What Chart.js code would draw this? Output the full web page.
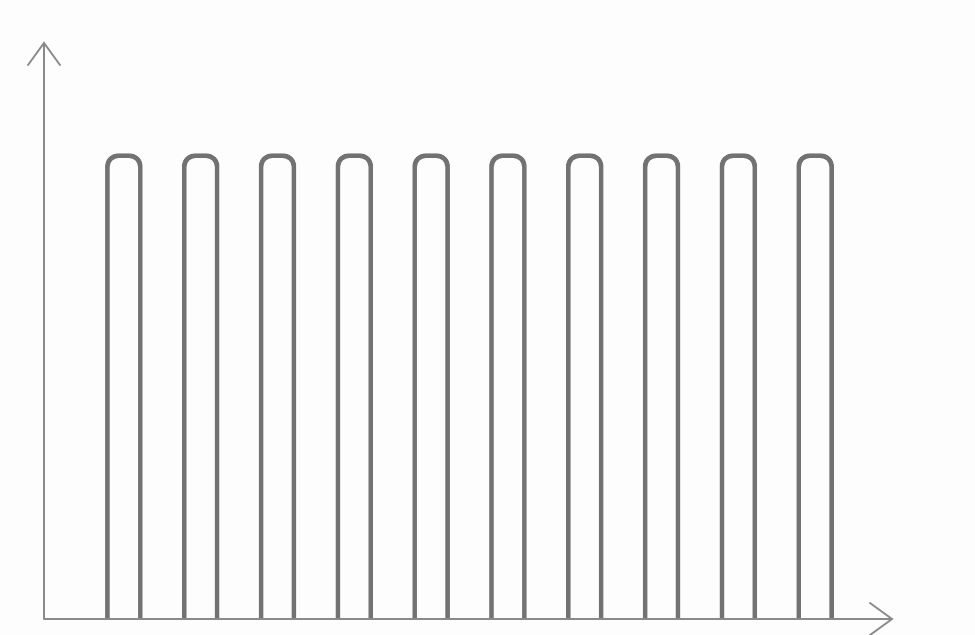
<!DOCTYPE html>
<html>
<head>
<meta charset="utf-8">
<script src="https://cdn.jsdelivr.net/npm/chart.js@4"></script>
<style>
  html, body { margin: 0; padding: 0; background: #fdfdfd; }
  #wrap { width: 975px; height: 635px; }
</style>
</head>
<body>
<div id="wrap"><canvas id="barChart"></canvas></div>
<script>
// Data: 10 equal bars, no labels on the axes
const positions = [1, 2, 3, 4, 5, 6, 7, 8, 9, 10];
const barValues = [8, 8, 8, 8, 8, 8, 8, 8, 8, 8];
const xRange = [-0.04, 11];
const yRange = [0, 9.9];

// Axis lines with arrow heads, drawn along the chart area edges
const arrowAxes = {
    id: 'arrowAxes',
    afterDraw(chart) {
        const { ctx, chartArea: a } = chart;
        ctx.save();
        ctx.strokeStyle = '#8a8a8a';
        ctx.lineWidth = 2;
        ctx.lineCap = 'round';
        ctx.beginPath();
        // y axis
        ctx.moveTo(a.left, a.bottom);
        ctx.lineTo(a.left, a.top);
        ctx.moveTo(a.left - 16, a.top + 22);
        ctx.lineTo(a.left, a.top);
        ctx.lineTo(a.left + 16, a.top + 22);
        // x axis
        ctx.moveTo(a.left, a.bottom);
        ctx.lineTo(a.right, a.bottom);
        ctx.moveTo(a.right - 22, a.bottom - 16);
        ctx.lineTo(a.right, a.bottom);
        ctx.lineTo(a.right - 22, a.bottom + 16);
        ctx.stroke();
        ctx.restore();
    }
};

const ctx = document.getElementById('barChart').getContext('2d');
new Chart(ctx, {
    type: 'bar',
    data: {
        datasets: [{
            data: positions.map((x, i) => ({ x: x, y: barValues[i] })),
            backgroundColor: 'rgba(0,0,0,0)',
            borderColor: '#727272',
            borderWidth: 4,
            borderSkipped: 'start',
            borderRadius: { topLeft: 13, topRight: 13, bottomLeft: 0, bottomRight: 0 },
            barThickness: 37
        }]
    },
    options: {
        responsive: true,
        maintainAspectRatio: false,
        animation: false,
        layout: { padding: { left: 44, top: 43, right: 83, bottom: 16 } },
        plugins: {
            legend: { display: false },
            tooltip: { enabled: false }
        },
        scales: {
            x: { type: 'linear', min: xRange[0], max: xRange[1], offset: false, display: false },
            y: { min: yRange[0], max: yRange[1], display: false }
        }
    },
    plugins: [arrowAxes]
});
</script>
</body>
</html>
